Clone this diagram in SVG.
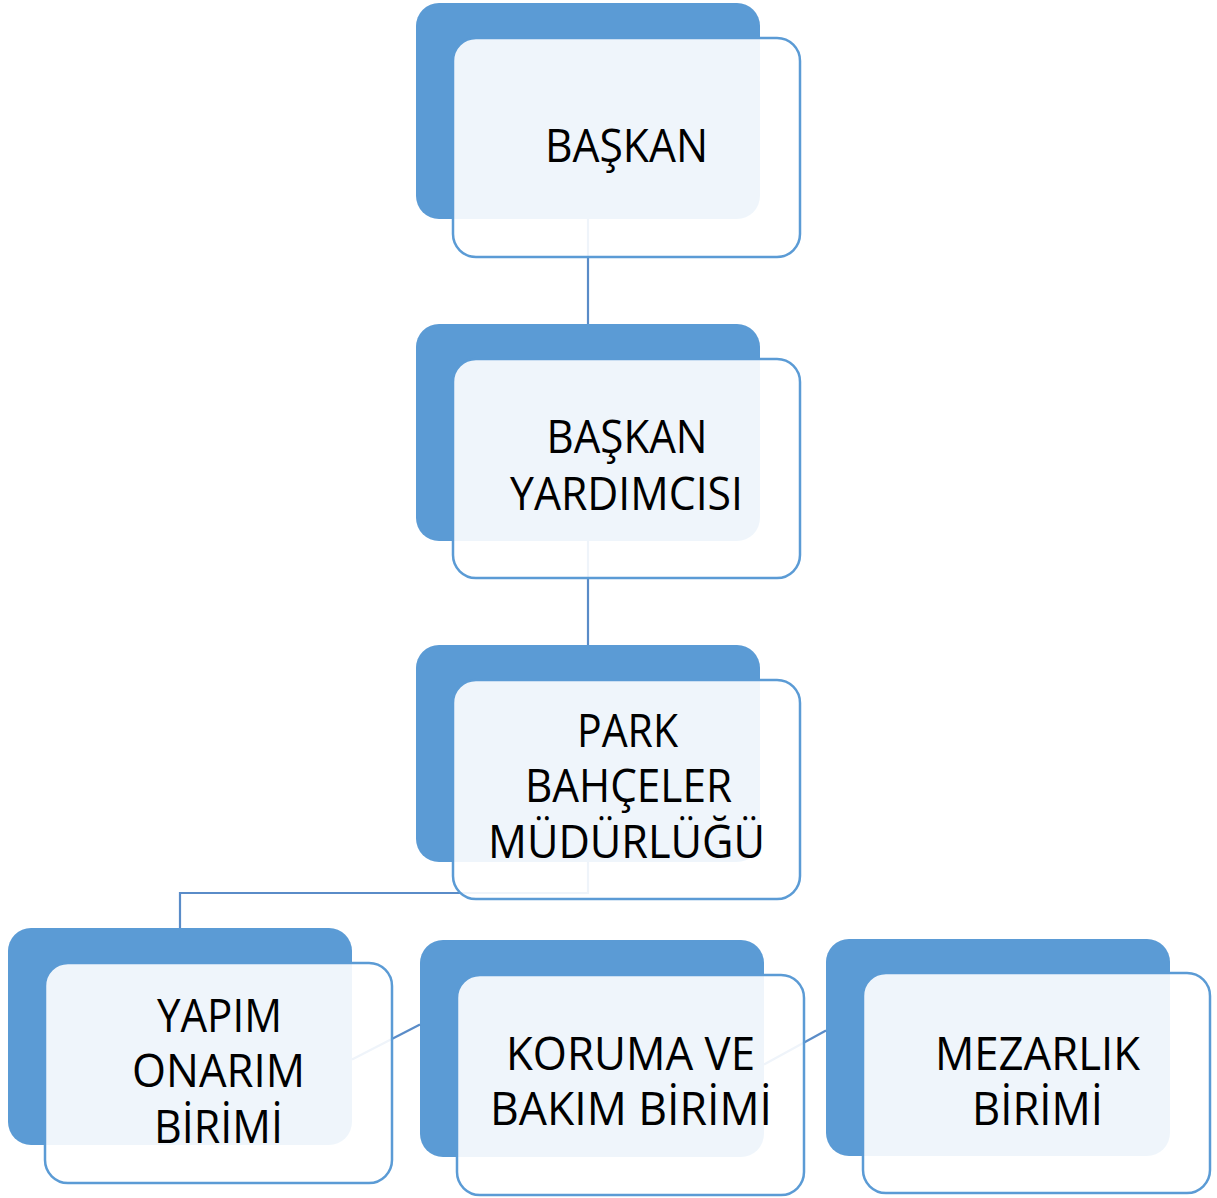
<svg xmlns="http://www.w3.org/2000/svg" width="1217" height="1198" viewBox="0 0 1217 1198">
<style>
.back{fill:#5B9BD5}
.front{fill:#FFFFFF;fill-opacity:0.9;stroke:#5B9BD5;stroke-width:2.5}
.conn{fill:none;stroke:#5A8CC8;stroke-width:2.2}
.lbl{font-family:"Open Sans","Liberation Sans",sans-serif;font-size:45px;fill:#000;text-anchor:middle}
</style>
<g id="backs">
<rect class="back" x="416" y="3" width="344" height="216" rx="23"/>
<rect class="back" x="416" y="324" width="344" height="217" rx="23"/>
<rect class="back" x="416" y="645" width="344" height="217" rx="23"/>
<rect class="back" x="8" y="928" width="344" height="217" rx="23"/>
<rect class="back" x="420" y="940" width="344" height="217" rx="23"/>
<rect class="back" x="826" y="939" width="344" height="217" rx="23"/>
</g>
<g id="connectors">
<line class="conn" x1="588" y1="219" x2="588" y2="324"/>
<line class="conn" x1="588" y1="541" x2="588" y2="645"/>
<polyline class="conn" points="588,862 588,893 180,893 180,928"/>
<line class="conn" x1="352" y1="1059.5" x2="420" y2="1024.5"/>
<line class="conn" x1="764" y1="1064.5" x2="826" y2="1030.5"/>
</g>
<g id="node-baskan">
<rect class="front" x="453" y="38" width="347" height="219" rx="23"/>
<text class="lbl" x="626.5" y="162" textLength="163" lengthAdjust="spacingAndGlyphs">BAŞKAN</text>
</g>
<g id="node-baskan-yardimcisi">
<rect class="front" x="453" y="359" width="347" height="219" rx="23"/>
<text class="lbl" x="627" y="453" textLength="161" lengthAdjust="spacingAndGlyphs">BAŞKAN</text>
<text class="lbl" x="626.5" y="510" textLength="233" lengthAdjust="spacingAndGlyphs">YARDIMCISI</text>
</g>
<g id="node-park">
<rect class="front" x="453" y="680" width="347" height="219" rx="23"/>
<text class="lbl" x="627.5" y="747" textLength="101" lengthAdjust="spacingAndGlyphs">PARK</text>
<text class="lbl" x="628.5" y="802" textLength="207" lengthAdjust="spacingAndGlyphs">BAHÇELER</text>
<text class="lbl" x="626.5" y="858" textLength="277" lengthAdjust="spacingAndGlyphs">MÜDÜRLÜĞÜ</text>
</g>
<g id="node-yapim">
<rect class="front" x="45" y="963" width="347" height="220" rx="23"/>
<text class="lbl" x="219.5" y="1032" textLength="125" lengthAdjust="spacingAndGlyphs">YAPIM</text>
<text class="lbl" x="218.5" y="1087" textLength="173" lengthAdjust="spacingAndGlyphs">ONARIM</text>
<text class="lbl" x="218.5" y="1143" textLength="129" lengthAdjust="spacingAndGlyphs">BİRİMİ</text>
</g>
<g id="node-koruma">
<rect class="front" x="457" y="975" width="347" height="220" rx="23"/>
<text class="lbl" x="630.5" y="1070" textLength="249" lengthAdjust="spacingAndGlyphs">KORUMA VE</text>
<text class="lbl" x="631" y="1125" textLength="282" lengthAdjust="spacingAndGlyphs">BAKIM BİRİMİ</text>
</g>
<g id="node-mezarlik">
<rect class="front" x="863" y="973" width="347" height="220" rx="23"/>
<text class="lbl" x="1037.5" y="1070" textLength="205" lengthAdjust="spacingAndGlyphs">MEZARLIK</text>
<text class="lbl" x="1037.5" y="1125" textLength="131" lengthAdjust="spacingAndGlyphs">BİRİMİ</text>
</g>
</svg>
